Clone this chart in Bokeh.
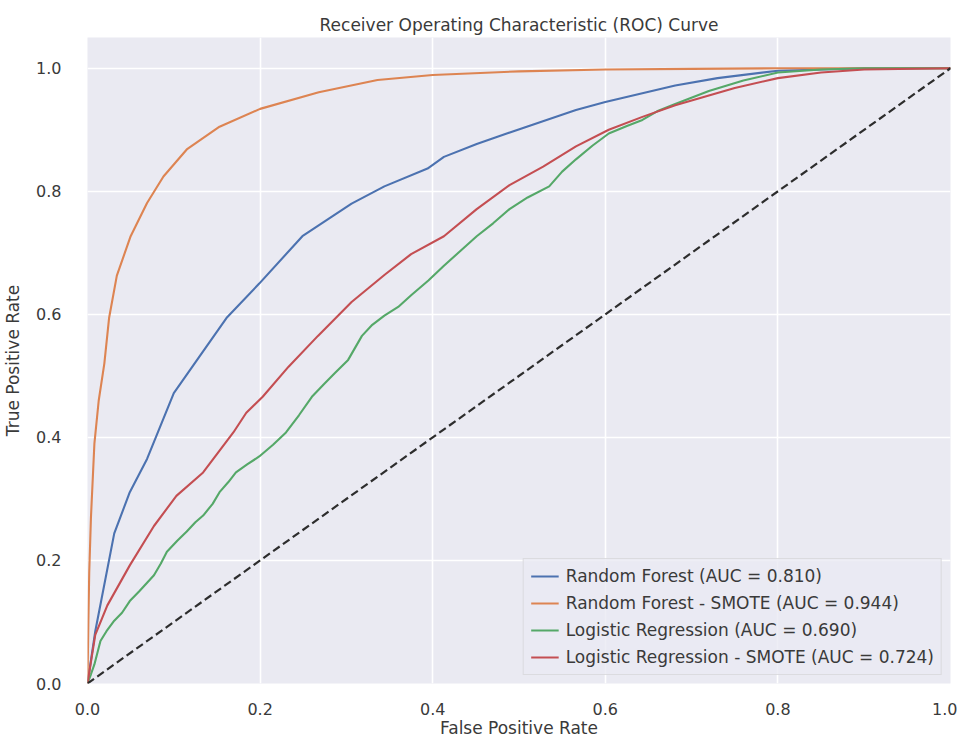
from bokeh.plotting import figure
from bokeh.models import FixedTicker, Legend, LegendItem, Range1d
from bokeh.embed import file_html
from bokeh.resources import INLINE

# ---- data ----
rf_fpr = [0, 0.009, 0.031, 0.049, 0.069, 0.1, 0.126, 0.161, 0.199, 0.249, 0.306, 0.344,
          0.394, 0.413, 0.451, 0.509, 0.566, 0.6, 0.681, 0.73, 0.8, 0.9, 1.0]
rf_tpr = [0, 0.085, 0.244, 0.311, 0.365, 0.472, 0.524, 0.594, 0.65, 0.727, 0.78, 0.808,
          0.837, 0.856, 0.877, 0.905, 0.932, 0.945, 0.972, 0.984, 0.996, 1.0, 1.0]

rfs_fpr = [0, 0.001, 0.002, 0.004, 0.008, 0.013, 0.0195, 0.025, 0.034, 0.050, 0.069, 0.088,
           0.115, 0.153, 0.2, 0.268, 0.336, 0.40, 0.5, 0.6, 0.7, 0.8, 0.9, 1.0]
rfs_tpr = [0, 0.10, 0.18, 0.27, 0.39, 0.46, 0.52, 0.594, 0.663, 0.727, 0.781, 0.824,
           0.868, 0.905, 0.934, 0.961, 0.981, 0.989, 0.995, 0.998, 0.999, 1.0, 1.0, 1.0]

lr_fpr = [0, 0.004, 0.008, 0.015, 0.022, 0.031, 0.040, 0.049, 0.060, 0.077, 0.085, 0.092,
          0.104, 0.115, 0.125, 0.134, 0.145, 0.153, 0.163, 0.172, 0.185, 0.199, 0.215, 0.23,
          0.245, 0.26, 0.275, 0.287, 0.302, 0.318, 0.330, 0.344, 0.36, 0.375, 0.395, 0.413,
          0.432, 0.451, 0.47, 0.489, 0.51, 0.535, 0.55, 0.566, 0.585, 0.604, 0.625, 0.643,
          0.66, 0.681, 0.72, 0.76, 0.8, 0.85, 0.9, 1.0]
lr_tpr = [0, 0.015, 0.031, 0.069, 0.085, 0.102, 0.115, 0.134, 0.150, 0.176, 0.195, 0.214,
          0.232, 0.247, 0.262, 0.273, 0.292, 0.311, 0.327, 0.343, 0.356, 0.369, 0.388, 0.408,
          0.436, 0.466, 0.488, 0.505, 0.526, 0.565, 0.583, 0.598, 0.612, 0.631, 0.655, 0.679,
          0.703, 0.727, 0.748, 0.771, 0.79, 0.808, 0.832, 0.852, 0.874, 0.894, 0.906, 0.916,
          0.93, 0.942, 0.963, 0.98, 0.993, 0.998, 1.0, 1.0]

lrs_fpr = [0, 0.009, 0.023, 0.049, 0.077, 0.103, 0.134, 0.169, 0.184, 0.203, 0.233, 0.267,
           0.306, 0.344, 0.375, 0.413, 0.451, 0.489, 0.528, 0.566, 0.604, 0.643, 0.681, 0.75,
           0.8, 0.85, 0.9, 1.0]
lrs_tpr = [0, 0.079, 0.127, 0.192, 0.256, 0.305, 0.343, 0.408, 0.44, 0.466, 0.515, 0.565,
           0.62, 0.664, 0.698, 0.727, 0.771, 0.81, 0.84, 0.873, 0.90, 0.921, 0.94, 0.968,
           0.984, 0.993, 0.998, 1.0]

chance = [0, 1]

series_labels = ["Random Forest (AUC = 0.810)",
                 "Random Forest - SMOTE (AUC = 0.944)",
                 "Logistic Regression (AUC = 0.690)",
                 "Logistic Regression - SMOTE (AUC = 0.724)"]
series_colors = ["#4c72b0", "#dd8452", "#55a868", "#c44e52"]

tick_values = [0, 0.2, 0.4, 0.6, 0.8, 1.0]
tick_labels = ["0.0", "0.2", "0.4", "0.6", "0.8", "1.0"]

FONT = "DejaVu Sans"
TXT = "#3a3a3a"

p = figure(width=957, height=740, output_backend="svg", toolbar_location=None,
           x_range=Range1d(0, 1.0), y_range=Range1d(0, 1.05),
           title="Receiver Operating Characteristic (ROC) Curve",
           min_border_left=79, min_border_right=7, min_border_top=37, min_border_bottom=52)

p.background_fill_color = "#eaeaf2"
p.border_fill_color = "white"
p.outline_line_color = None

p.title.align = "center"
p.title.text_font = FONT
p.title.text_font_size = "17px"
p.title.text_font_style = "normal"
p.title.text_color = TXT
p.title.standoff = 6

for ax in (p.xaxis[0], p.yaxis[0]):
    ax.ticker = FixedTicker(ticks=tick_values)
    ax.major_label_overrides = {v: l for v, l in zip(tick_values, tick_labels)}
    ax.axis_line_color = None
    ax.major_tick_line_color = None
    ax.minor_tick_line_color = None
    ax.major_label_text_font = FONT
    ax.major_label_text_font_size = "16px"
    ax.major_label_text_color = TXT
    ax.axis_label_text_font = FONT
    ax.axis_label_text_font_size = "17px"
    ax.axis_label_text_font_style = "normal"
    ax.axis_label_text_color = TXT

p.xaxis.axis_label = "False Positive Rate"
p.yaxis.axis_label = "True Positive Rate"
p.xaxis.major_label_standoff = 13
p.xaxis.axis_label_standoff = 0
p.yaxis.major_label_standoff = 20
p.yaxis.axis_label_standoff = 10

p.grid.grid_line_color = "white"
p.grid.grid_line_width = 1.6
p.xgrid.ticker = FixedTicker(ticks=tick_values)
p.ygrid.ticker = FixedTicker(ticks=tick_values)

xs = [rf_fpr, rfs_fpr, lr_fpr, lrs_fpr]
ys = [rf_tpr, rfs_tpr, lr_tpr, lrs_tpr]
renderers = []
for x, y, c in zip(xs, ys, series_colors):
    r = p.line(x, y, line_color=c, line_width=2.1)
    renderers.append(r)

p.line(chance, chance, line_color="#2d2d2d", line_width=2.2, line_dash="8 4")

legend = Legend(items=[LegendItem(label=l, renderers=[r]) for l, r in zip(series_labels, renderers)],
                location="bottom_right")
legend.margin = 8
legend.padding = 7
legend.spacing = 7
legend.glyph_width = 28
legend.glyph_height = 20
legend.label_height = 20
legend.label_standoff = 7
legend.label_text_font = FONT
legend.label_text_font_size = "17px"
legend.label_text_color = TXT
legend.background_fill_color = "#eaeaf2"
legend.background_fill_alpha = 0.8
legend.border_line_color = "#cccccc"
legend.border_line_width = 1
p.add_layout(legend, "center")

open("out.html", "w").write(file_html(p, INLINE))
